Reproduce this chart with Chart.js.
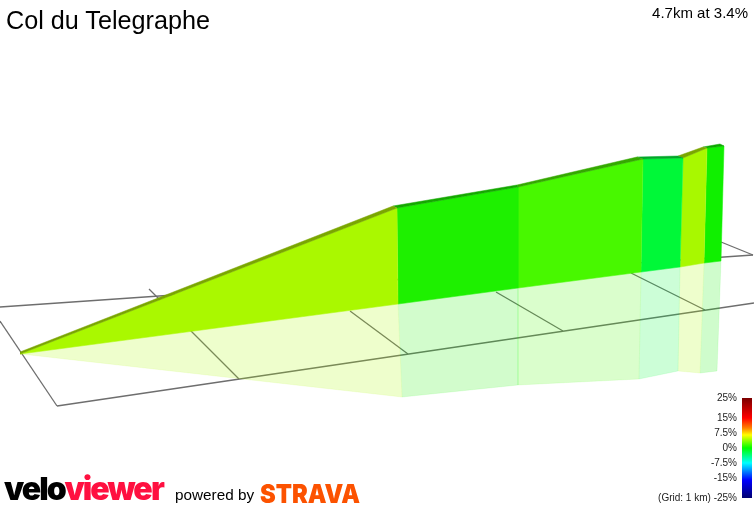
<!DOCTYPE html>
<html>
<head>
<meta charset="utf-8">
<title>Col du Telegraphe</title>
<script src="https://cdn.jsdelivr.net/npm/chart.js@4"></script>
<style>
    html, body { margin: 0; padding: 0; background: #fff; }
    #wrap { position: relative; width: 754px; height: 505px; overflow: hidden; font-family: "Liberation Sans", Arial, sans-serif; color: #000; }
    #myChart { position: absolute; left: 0; top: 0; }
    .txt { position: absolute; white-space: nowrap; }
    #title { left: 6px; top: 6px; font-size: 25.2px; line-height: 28px; }
    #summary { right: 6px; top: 4px; font-size: 15px; line-height: 17px; }
    #colorbar { position: absolute; left: 742px; top: 398px; width: 10px; height: 100px;
        background: linear-gradient(#7a0000 0%, #ff0000 20%, #ff8000 30%, #ffff00 37%, #00ff00 50%, #00ffff 65%, #0000ff 82%, #000070 100%); }
    .scale { right: 17px; font-size: 10px; line-height: 12px; color: #222; }
    #logoVelo { left: 4px; top: 471px; font: 900 32px/36px Inter, sans-serif; letter-spacing: -1.9px; transform-origin: left top; }
    #logoVelo .red { color: #ff1040; }
    #powered { left: 175px; top: 486px; font-size: 15.3px; line-height: 18px; }
    #strava { left: 260px; top: 478px; font: 900 26px/32px Inter, sans-serif; color: #fc5200; transform: scaleX(0.91); transform-origin: left top; }
</style>
</head>
<body>
<div id="wrap">
    <canvas id="myChart" width="754" height="505"></canvas>
    <div class="txt" id="title"></div>
    <div class="txt" id="summary"></div>
    <div id="colorbar"></div>
    <div class="txt" id="logoVelo">velo<span class="red">viewer</span></div>
    <div class="txt" id="powered">powered by</div>
    <div class="txt" id="strava">STRAVA</div>
</div>
<script>
// Chữ trên biểu đồ
const chartTitle = 'Col du Telegraphe';
const chartSummary = '4.7km at 3.4%';
const scaleLabels = ['25%', '15%', '7.5%', '0%', '-7.5%', '-15%', '(Grid: 1 km) -25%'];
const scaleTops = [392, 412, 427, 442, 457, 472, 492];

// Giá trị, theo mặt phẳng chiếu của ảnh 3D (6 đoạn dốc = 7 mốc)
const wallTopX = [20, 397, 518, 643, 683, 707, 724];
const wallTopY = [354, 208, 187, 159, 158, 148, 146];
const wallBaseX = [20, 398, 518, 641, 680, 704, 721];
const wallBaseY = [354, 304, 288, 272, 267, 263, 261];
const ridgeBackX = [20, 393, 517, 637, 678, 703, 720];
const ridgeBackY = [352, 206, 185, 157, 156, 147, 144];
const mirrorX = [21, 402, 518, 639, 678, 700, 717];
const mirrorY = [354, 397, 385, 379, 371, 373, 371];

// Màu từng đoạn
const wallColors = ['#aaf800', '#1ef000', '#48f800', '#00f838', '#a8f800', '#10f000'];
const ridgeColors = ['#7aa600', '#14a800', '#34a800', '#00a828', '#7aa600', '#0ca800'];
const mirrorColors = wallColors.map(c => c + '33');

// Lưới 1 km trên mặt đất
const gridStartX = [0, 0, 57, 149, 350, 496, 631, 721];
const gridStartY = [307, 321, 406, 289, 311, 292, 273, 242];
const gridEndX = [753, 57, 754, 239, 408, 563, 705, 753];
const gridEndY = [255, 406, 303, 379, 354, 331, 310, 255];

function quad(ax, ay, bx, by, i) {
    return [
        { x: ax[i], y: ay[i] },
        { x: ax[i + 1], y: ay[i + 1] },
        { x: bx[i + 1], y: by[i + 1] },
        { x: bx[i], y: by[i] }
    ];
}

function shape(points, color) {
    return {
        data: points,
        showLine: true,
        fill: 'shape',
        backgroundColor: color,
        borderColor: color,
        borderWidth: 0.5,
        pointRadius: 0
    };
}

document.getElementById('title').textContent = chartTitle;
document.getElementById('summary').textContent = chartSummary;
scaleLabels.forEach((label, i) => {
    const el = document.createElement('div');
    el.className = 'txt scale';
    el.style.top = scaleTops[i] + 'px';
    el.textContent = label;
    document.getElementById('wrap').appendChild(el);
});

// Dataset đầu tiên được vẽ trên cùng nên đưa ridge, wall lên trước
const datasets = [];
wallColors.forEach((c, i) => datasets.push(shape(quad(ridgeBackX, ridgeBackY, wallTopX, wallTopY, i), ridgeColors[i])));
wallColors.forEach((c, i) => datasets.push(shape(quad(wallTopX, wallTopY, wallBaseX, wallBaseY, i), c)));
wallColors.forEach((c, i) => datasets.push(shape(quad(wallBaseX, wallBaseY, mirrorX, mirrorY, i), mirrorColors[i])));
gridStartX.forEach((x, i) => {
    datasets.push({
        data: [{ x: x, y: gridStartY[i] }, { x: gridEndX[i], y: gridEndY[i] }],
        showLine: true,
        borderColor: '#6e6e6e',
        borderWidth: 1.3,
        pointRadius: 0
    });
});

new Chart(document.getElementById('myChart').getContext('2d'), {
    type: 'scatter',
    data: { datasets: datasets },
    options: {
        responsive: false,
        animation: false,
        layout: { padding: 0 },
        plugins: {
            legend: { display: false },
            title: { display: false },
            tooltip: { enabled: false }
        },
        scales: {
            x: { type: 'linear', display: false, min: 0, max: 754 },
            y: { type: 'linear', display: false, min: 0, max: 505, reverse: true }
        }
    }
});
</script>
</body>
</html>
